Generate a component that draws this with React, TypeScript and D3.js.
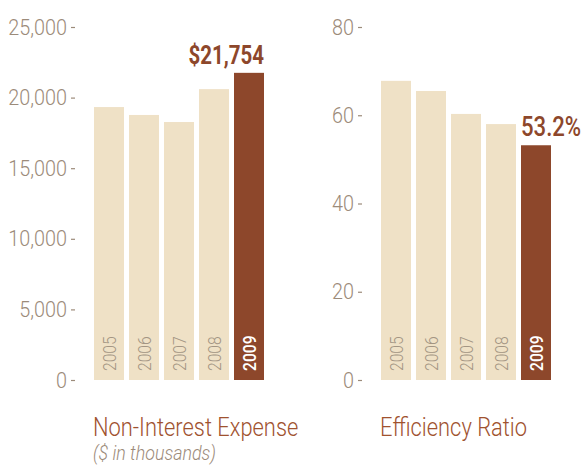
import * as d3 from "d3";
import React from "react";

// data
const years = ["2005", "2006", "2007", "2008", "2009"];
const expenseValues = [19330, 18770, 18270, 20600, 21754];
const expenseTicks = [0, 5000, 10000, 15000, 20000, 25000];
const ratioValues = [67.8, 65.5, 60.3, 58.0, 53.2];
const ratioTicks = [0, 20, 40, 60, 80];

const LIGHT = "#efe1c6";
const DARK = "#8d472b";
const TICK = "#9c8b7a";
const TITLE = "#a0522f";
const FONT = "Roboto, 'Liberation Sans', sans-serif";

// squeeze text horizontally so it looks like a condensed face
const Squeezed = ({ x, y, anchor = "start", size, sx = 0.82, weight = 300, fill, italic = false, children }: any) => (
  <text
    transform={`translate(${x},${y}) scale(${sx},1)`}
    textAnchor={anchor}
    fontSize={size}
    fontWeight={weight}
    fontStyle={italic ? "italic" : "normal"}
    fill={fill}
    fontFamily={FONT}
  >
    {children}
  </text>
);

const Panel = ({ values, ticks, max, left, tickRight, fmt, label, labelAnchor, title, subtitle }: any) => {
  const y = d3.scaleLinear().domain([0, max]).range([380, 27]);
  const x = d3.scaleBand().domain(years).range([left, left + 170]).paddingInner(1 / 7).paddingOuter(0);
  const last = years[years.length - 1];
  const lastVal = values[values.length - 1];
  return (
    <g>
      {ticks.map((t: number) => (
        <g key={t}>
          <Squeezed x={tickRight} y={y(t) + 7.5} anchor="end" size={22} sx={0.9} fill={TICK}>
            {fmt(t)}
          </Squeezed>
          <line x1={tickRight + 4} x2={tickRight + 8} y1={y(t) + 0.5} y2={y(t) + 0.5} stroke={TICK} strokeWidth={1.2} />
        </g>
      ))}
      {years.map((yr, i) => (
        <rect key={yr} x={x(yr)} y={y(values[i])} width={x.bandwidth()} height={y(0) - y(values[i])}
          fill={yr === last ? DARK : LIGHT} />
      ))}
      {years.map((yr) => (
        <text key={yr} transform={`translate(${(x(yr) as number) + x.bandwidth() / 2 + 6.5},371) rotate(-90) scale(0.87,1)`}
          fontSize={18} fontFamily={FONT} fontWeight={yr === last ? 500 : 300}
          fill={yr === last ? "#ffffff" : "#a39583"}>
          {yr}
        </text>
      ))}
      <Squeezed
        x={labelAnchor === "end" ? (x(last) as number) + x.bandwidth() : (x(last) as number)}
        y={y(lastVal) - 9}
        anchor={labelAnchor}
        size={labelAnchor === "end" ? 25 : 27}
        weight={labelAnchor === "end" ? 700 : 500}
        fill={DARK}
      >
        {label}
      </Squeezed>
      <Squeezed x={left - 1} y={436} size={26.7} fill={TITLE}>{title}</Squeezed>
      {subtitle && (
        <Squeezed x={left - 1} y={460} size={21} sx={0.85} fill={TICK} italic>{subtitle}</Squeezed>
      )}
    </g>
  );
};

export default function App() {
  return (
    <svg width={581} height={466} style={{ position: "absolute", left: 0, top: 0 }}>
      <Panel values={expenseValues} ticks={expenseTicks} max={25000} left={94} tickRight={67}
        fmt={d3.format(",")} label="$21,754" labelAnchor="end"
        title="Non-Interest Expense" subtitle="($ in thousands)" />
      <Panel values={ratioValues} ticks={ratioTicks} max={80} left={381} tickRight={354}
        fmt={(d: number) => String(d)} label="53.2%" labelAnchor="start"
        title="Efficiency Ratio" />
    </svg>
  );
}
